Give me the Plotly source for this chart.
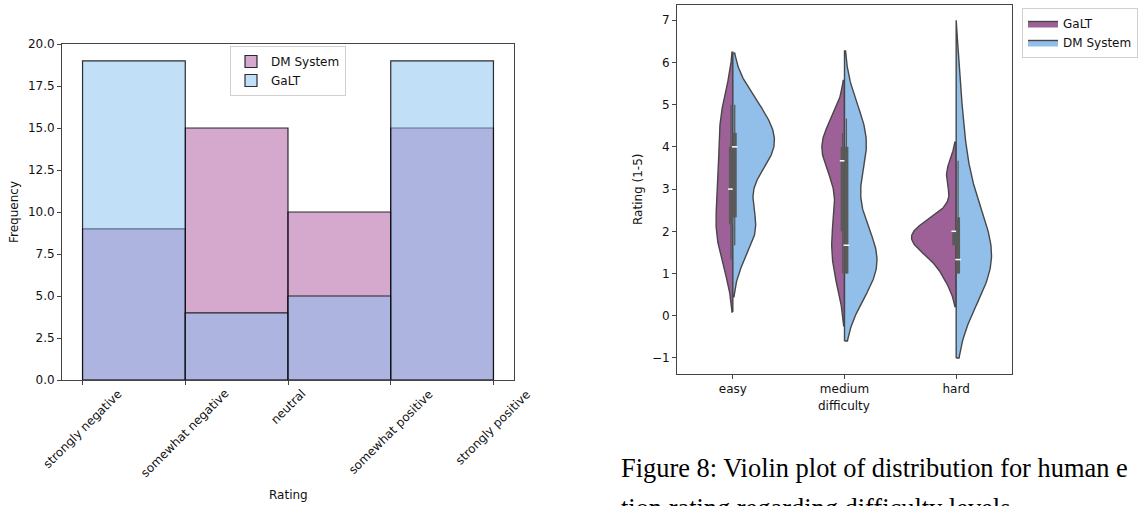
import numpy as np
import plotly.graph_objects as go

# ---------------- Left chart data: rating histogram ----------------
rating_ticks = ["strongly negative", "somewhat negative", "neutral",
                "somewhat positive", "strongly positive"]
dm_counts = [9, 15, 10, 15]
galt_counts = [19, 4, 5, 19]

# ---------------- Right chart data: ratings per difficulty ----------------
difficulty = ["easy", "medium", "hard"]
galt_easy = [1.33, 2.0, 2.33, 3.0, 3.67, 4.33, 5.0]
galt_medium = [1.0, 1.67, 2.33, 3.67, 4.0, 4.0, 4.33]
galt_hard = [1.0, 1.67, 1.67, 2.0, 2.0, 2.0, 3.33]
dm_easy = [1.67, 2.0, 2.33, 2.33, 3.67, 3.67, 4.0, 4.0, 4.0, 4.33, 4.67, 5.0, 5.0]
dm_medium = [1.0, 1.0, 1.0, 1.0, 1.33, 1.67, 1.67, 2.33, 3.67, 4.0, 4.0, 4.33, 4.67]
dm_hard = [1.0, 1.0, 1.0, 1.0, 1.33, 1.33, 1.33, 1.67, 2.0, 2.33, 3.0, 3.67, 5.0]
# KDE bandwidths (rating units)
galt_bw = [0.62, 0.62, 0.39]
dm_bw = [0.61, 0.80, 1.00]

FONT = "DejaVu Sans"
W, H = 1138, 506
GALT_V = "#9d6097"
DM_V = "#92bfea"
EDGE = "#474747"
BOXC = "#5a5a5a"


def px_x(p):
    return p / W


def px_y(p):
    return 1 - p / H


def kde(samples, bw, cut=2.0, gridsize=200):
    s = np.asarray(samples, float)
    grid = np.linspace(s.min() - cut * bw, s.max() + cut * bw, gridsize)
    dens = np.exp(-0.5 * ((grid[:, None] - s[None, :]) / bw) ** 2).sum(axis=1)
    dens /= (len(s) * bw * np.sqrt(2 * np.pi))
    return grid, dens * len(s)  # count-scaled density


fig = go.Figure()

# ---------------- Left: overlaid histogram bars ----------------
centers = [i + 1.5 for i in range(len(dm_counts))]
fig.add_trace(go.Bar(
    x=centers, y=dm_counts, width=1.0, name="DM System",
    marker=dict(color="rgba(169,83,155,0.5)",
                line=dict(color="rgba(10,10,10,0.85)", width=1.2)),
    xaxis="x", yaxis="y", legend="legend"))
fig.add_trace(go.Bar(
    x=centers, y=galt_counts, width=1.0, name="GaLT",
    marker=dict(color="rgba(133,191,241,0.5)",
                line=dict(color="rgba(10,10,10,0.85)", width=1.2)),
    xaxis="x", yaxis="y", legend="legend"))

# ---------------- Right: split violins ----------------
galt_sets = [galt_easy, galt_medium, galt_hard]
dm_sets = [dm_easy, dm_medium, dm_hard]
kdes_g = [kde(s, b) for s, b in zip(galt_sets, galt_bw)]
kdes_d = [kde(s, b) for s, b in zip(dm_sets, dm_bw)]
global_max = max(max(d.max() for _, d in kdes_g), max(d.max() for _, d in kdes_d))
half_width = 0.4
scale = half_width / global_max
box_off = 0.017

for side, name, color, sets, kdes in [(-1, "GaLT", GALT_V, galt_sets, kdes_g),
                                      (1, "DM System", DM_V, dm_sets, kdes_d)]:
    for i, (samples, (grid, dens)) in enumerate(zip(sets, kdes)):
        hw = dens * scale
        xs = np.concatenate([[i], i + side * hw, [i, i]])
        ys = np.concatenate([[grid[0]], grid, [grid[-1], grid[0]]])
        fig.add_trace(go.Scatter(
            x=xs, y=ys, mode="lines", fill="toself", fillcolor=color,
            line=dict(color=EDGE, width=1.4), name=name, legendgroup=name,
            showlegend=(i == 0), legend="legend2", xaxis="x2", yaxis="y2",
            hoverinfo="skip"))

for side, sets in [(-1, galt_sets), (1, dm_sets)]:
    for i, samples in enumerate(sets):
        s = np.asarray(samples, float)
        q1, med, q3 = np.percentile(s, [25, 50, 75])
        iqr = q3 - q1
        lo = s[s >= q1 - 1.5 * iqr].min()
        hi = s[s <= q3 + 1.5 * iqr].max()
        xb = i + side * box_off
        fig.add_trace(go.Scatter(x=[xb, xb], y=[lo, hi], mode="lines",
                                 line=dict(color=BOXC, width=1.3), showlegend=False,
                                 xaxis="x2", yaxis="y2", hoverinfo="skip"))
        fig.add_trace(go.Scatter(x=[xb, xb], y=[q1, q3], mode="lines",
                                 line=dict(color=BOXC, width=4), showlegend=False,
                                 xaxis="x2", yaxis="y2", hoverinfo="skip"))
        fig.add_trace(go.Scatter(x=[xb], y=[med], mode="markers",
                                 marker=dict(symbol="line-ew-open", size=4, color="white",
                                             line=dict(color="white", width=1.5)),
                                 showlegend=False, xaxis="x2", yaxis="y2",
                                 hoverinfo="skip"))

axis_common = dict(showline=True, linecolor="#444", linewidth=1, mirror=True,
                   ticks="outside", ticklen=4, tickcolor="#444", showgrid=False,
                   zeroline=False, automargin=False,
                   tickfont=dict(family=FONT, size=12, color="#111"))

annotations = []
for i, lab in enumerate(rating_ticks):
    annotations.append(dict(x=i + 1, y=0, xref="x", yref="y", text=lab,
                            textangle=-45, xanchor="center", yanchor="top",
                            yshift=-4, showarrow=False,
                            font=dict(family=FONT, size=12, color="#111")))
annotations += [
    dict(x=px_x(288), y=px_y(495), xref="paper", yref="paper", text="Rating",
         showarrow=False, xanchor="center", yanchor="middle",
         font=dict(family=FONT, size=12, color="#111")),
    dict(x=px_x(14), y=px_y(212), xref="paper", yref="paper", text="Frequency",
         textangle=-90, showarrow=False, xanchor="center", yanchor="middle",
         font=dict(family=FONT, size=12, color="#111")),
    dict(x=px_x(844), y=px_y(406), xref="paper", yref="paper", text="difficulty",
         showarrow=False, xanchor="center", yanchor="middle",
         font=dict(family=FONT, size=12, color="#111")),
    dict(x=px_x(638), y=px_y(190), xref="paper", yref="paper", text="Rating (1-5)",
         textangle=-90, showarrow=False, xanchor="center", yanchor="middle",
         font=dict(family=FONT, size=12, color="#111")),
    dict(x=px_x(619), y=px_y(468), xref="paper", yref="paper",
         text="Figure 8: Violin plot of distribution for human e",
         showarrow=False, xanchor="left", yanchor="middle",
         font=dict(family="Liberation Serif", size=26.4, color="#000")),
    dict(x=px_x(619), y=px_y(508), xref="paper", yref="paper",
         text="tion rating regarding difficulty levels",
         showarrow=False, xanchor="left", yanchor="middle",
         font=dict(family="Liberation Serif", size=26.4, color="#000")),
]

fig.update_layout(
    width=W, height=H, margin=dict(l=0, r=0, t=0, b=0, autoexpand=False),
    paper_bgcolor="white", plot_bgcolor="white", barmode="overlay",
    font=dict(family=FONT, size=12, color="#111"),
    xaxis=dict(domain=[px_x(62), px_x(514)], range=[0.8, 5.2],
               tickvals=[1, 2, 3, 4, 5], showticklabels=False, **axis_common),
    yaxis=dict(domain=[px_y(380), px_y(44)], range=[0, 20], tick0=0, dtick=2.5,
               tickformat=".1f", **axis_common),
    xaxis2=dict(domain=[px_x(677), px_x(1012)], range=[-0.5, 2.5],
                tickvals=[0, 1, 2], ticktext=difficulty, anchor="y2", **axis_common),
    yaxis2=dict(domain=[px_y(374), px_y(5)], range=[-1.38, 7.36], tick0=0, dtick=1,
                anchor="x2", **axis_common),
    legend=dict(x=px_x(230), y=px_y(46), xanchor="left", yanchor="top",
                bgcolor="rgba(255,255,255,0.8)", bordercolor="#d0d0d0", borderwidth=1,
                font=dict(family=FONT, size=12, color="#111"), traceorder="normal"),
    legend2=dict(x=px_x(1022), y=px_y(8), xanchor="left", yanchor="top",
                 bgcolor="rgba(255,255,255,0.8)", bordercolor="#d0d0d0", borderwidth=1,
                 font=dict(family=FONT, size=12, color="#111"), traceorder="normal"),
    annotations=annotations,
)

fig.write_html("out.html", config={"displayModeBar": False},
               post_script="document.body.style.margin='0';document.body.style.overflow='hidden';")
